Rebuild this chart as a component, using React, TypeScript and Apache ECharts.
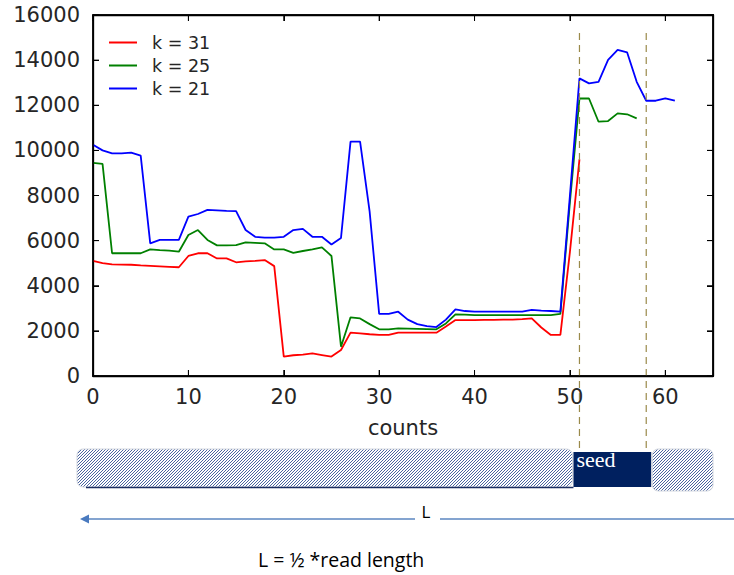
import React, { useEffect, useRef } from "react";
import * as echarts from "echarts";

const xTicks = [0, 10, 20, 30, 40, 50, 60];
const yTicks = [0, 2000, 4000, 6000, 8000, 10000, 12000, 14000, 16000];
const seriesNames = ["k = 31", "k = 25", "k = 21"];
const seriesColors = ["#ff0000", "#008000", "#0000ff"];

const k31 = [
  5100, 5000, 4950, 4940, 4930, 4900, 4880, 4860, 4840, 4820,
  5320, 5440, 5440, 5210, 5210, 5040, 5080, 5100, 5140, 4870,
  860, 920, 950, 1000, 930, 860, 1150, 1920, 1890, 1850,
  1820, 1820, 1920, 1920, 1920, 1920, 1920, 2190, 2480, 2480,
  2480, 2490, 2490, 2500, 2500, 2520, 2550, 2150, 1820, 1820,
  5500, 9600,
];
const k25 = [
  9450, 9400, 5440, 5440, 5440, 5440, 5610, 5580, 5560, 5510,
  6250, 6470, 6030, 5790, 5790, 5800, 5920, 5900, 5880, 5610,
  5610, 5460, 5540, 5610, 5700, 5320, 1300, 2600, 2550, 2300,
  2070, 2070, 2110, 2100, 2090, 2080, 2070, 2330, 2730, 2720,
  2700, 2700, 2700, 2700, 2700, 2700, 2700, 2700, 2700, 2750,
  7700, 12300, 12300, 11270, 11300, 11640, 11600, 11420,
];
const k21 = [
  10250, 10000, 9870, 9870, 9900, 9770, 5880, 6030, 6030, 6030,
  7060, 7180, 7360, 7340, 7320, 7310, 6470, 6170, 6130, 6130,
  6170, 6470, 6520, 6170, 6170, 5830, 6120, 10390, 10390, 7300,
  2750, 2750, 2850, 2500, 2300, 2210, 2170, 2500, 2950, 2880,
  2850, 2850, 2850, 2850, 2850, 2850, 2930, 2900, 2880, 2850,
  8000, 13190, 12970, 13040, 14010, 14450, 14340, 13040, 12200, 12200,
  12300, 12200,
];
const seedBounds = [51, 58];
const X_MAX = 65;
const Y_MAX = 16000;

function hatchTile(): string {
  const c = document.createElement("canvas");
  c.width = 3;
  c.height = 3;
  const ctx = c.getContext("2d");
  if (ctx) {
    ctx.fillStyle = "#ffffff";
    ctx.fillRect(0, 0, 3, 3);
    ctx.fillStyle = "#4a64a0";
    ctx.fillRect(2, 0, 1, 1);
    ctx.fillRect(1, 1, 1, 1);
    ctx.fillRect(0, 2, 1, 1);
  }
  return c.toDataURL();
}

const mkLine = () => ({ show: true, onZero: false, lineStyle: { color: "#000000", width: 1.3 } });
const mkTick = () => ({ show: true, inside: true, length: 6, lineStyle: { color: "#000000", width: 1 } });

export default function App() {
  const ref = useRef<HTMLDivElement>(null);
  useEffect(() => {
    if (!ref.current) return;
    const chart = echarts.init(ref.current, null, { renderer: "svg" });
    const font = "DejaVu Sans";
    const labelColor = "#262626";
    const data = [k31, k25, k21];

    const G = { left: 93, top: 15, width: 620, height: 361 };
    const px = (v: number) => G.left + (v / X_MAX) * G.width;
    const py = (v: number) => G.top + G.height - (v / Y_MAX) * G.height;

    const tile = hatchTile();
    const hatch = { image: tile, repeat: "repeat", imageWidth: 3, imageHeight: 3 };
    const xs = seedBounds.map(px);
    const yTop = py(15200);
    const barTop = 449;
    const barBottom = 487;
    const dashStyle = { stroke: "#9a8a4a", lineWidth: 1.2, lineDash: [7, 5] };
    const solid = { fill: "#000000" };

    const frame: any[] = [
      { type: "rect", shape: { x: G.left - 0.5, y: G.top - 0.75, width: G.width + 1.5, height: 1.5 }, style: solid, z: 20, silent: true },
      { type: "rect", shape: { x: G.left - 0.5, y: G.top + G.height - 0.75, width: G.width + 1.5, height: 1.5 }, style: solid, z: 20, silent: true },
      { type: "rect", shape: { x: G.left - 0.75, y: G.top - 0.5, width: 1.5, height: G.height + 1 }, style: solid, z: 20, silent: true },
      { type: "rect", shape: { x: G.left + G.width - 0.75, y: G.top - 0.5, width: 1.5, height: G.height + 1 }, style: solid, z: 20, silent: true },
    ];
    xTicks.forEach((v) => {
      const x = px(v);
      frame.push({ type: "rect", shape: { x: x - 0.5, y: G.top, width: 1, height: 6 }, style: solid, z: 20, silent: true });
      frame.push({ type: "rect", shape: { x: x - 0.5, y: G.top + G.height - 6, width: 1, height: 6 }, style: solid, z: 20, silent: true });
    });
    yTicks.forEach((v) => {
      const y = py(v);
      frame.push({ type: "rect", shape: { x: G.left, y: y - 0.5, width: 6, height: 1 }, style: solid, z: 20, silent: true });
      frame.push({ type: "rect", shape: { x: G.left + G.width - 6, y: y - 0.5, width: 6, height: 1 }, style: solid, z: 20, silent: true });
    });

    chart.setOption({
      animation: false,
      textStyle: { fontFamily: font },
      grid: {
        left: G.left, top: G.top, width: G.width, height: G.height, containLabel: false,
        show: true, borderColor: "#000000", borderWidth: 1.3, backgroundColor: "transparent",
      },
      legend: {
        orient: "vertical",
        left: 104,
        top: 28,
        icon: "rect",
        itemWidth: 28,
        itemHeight: 2,
        itemGap: 4,
        textStyle: { fontSize: 17.5, color: labelColor, fontFamily: font, lineHeight: 19, padding: [0, 0, 0, 10] },
        data: seriesNames,
      },
      xAxis: [
        {
          type: "value",
          min: 0,
          max: X_MAX,
          interval: 10,
          position: "bottom",
          axisLine: mkLine(),
          axisTick: mkTick(),
          splitLine: { show: false },
          axisLabel: {
            fontSize: 21,
            color: labelColor,
            margin: 10,
            showMaxLabel: false,
            formatter: (v: number) => (xTicks.includes(v) ? String(v) : ""),
          },
          name: "counts",
          nameLocation: "middle",
          nameGap: 41,
          nameTextStyle: { fontSize: 21, color: labelColor },
        },
        {
          type: "value",
          min: 0,
          max: X_MAX,
          interval: 10,
          position: "top",
          axisLine: mkLine(),
          axisTick: mkTick(),
          splitLine: { show: false },
          axisLabel: { show: false },
        },
      ],
      yAxis: [
        {
          type: "value",
          min: 0,
          max: Y_MAX,
          interval: 2000,
          position: "left",
          axisLine: mkLine(),
          axisTick: mkTick(),
          splitLine: { show: false },
          axisLabel: { fontSize: 21, color: labelColor, margin: 13, formatter: (v: number) => String(v) },
        },
        {
          type: "value",
          min: 0,
          max: Y_MAX,
          interval: 2000,
          position: "right",
          axisLine: mkLine(),
          axisTick: mkTick(),
          splitLine: { show: false },
          axisLabel: { show: false },
        },
      ],
      series: data.map((arr, si) => ({
        name: seriesNames[si],
        type: "line",
        xAxisIndex: 0,
        yAxisIndex: 0,
        symbol: "none",
        lineStyle: { width: 1.8, color: seriesColors[si] },
        itemStyle: { color: seriesColors[si] },
        data: arr.map((v, i) => [i, v]),
      })),
      graphic: [
        ...frame,
        { type: "line", shape: { x1: xs[0], y1: yTop, x2: xs[0], y2: barTop + 3 }, style: dashStyle, z: 10 },
        { type: "line", shape: { x1: xs[1], y1: yTop, x2: xs[1], y2: barTop + 3 }, style: dashStyle, z: 10 },
        {
          type: "rect",
          shape: { x: 77, y: barTop, width: xs[0] - 7 - 77, height: barBottom - barTop, r: 6 },
          style: { fill: hatch, stroke: "#d4d8e0", lineWidth: 1 },
        },
        {
          type: "line",
          shape: { x1: 86, y1: barBottom + 0.5, x2: xs[0] - 6, y2: barBottom + 0.5 },
          style: { stroke: "#1c2f63", lineWidth: 1.5 },
        },
        {
          type: "rect",
          shape: { x: xs[0] - 6, y: barTop + 3, width: xs[1] + 5 - (xs[0] - 6), height: barBottom - barTop - 3 },
          style: { fill: "#00205f" },
        },
        {
          type: "rect",
          shape: { x: xs[1] + 6, y: barTop, width: 713 - (xs[1] + 6), height: barBottom - barTop + 4, r: 6 },
          style: { fill: hatch, stroke: "#d4d8e0", lineWidth: 1 },
        },
        {
          type: "text",
          x: xs[0] - 3,
          y: 459,
          style: { text: "seed", fill: "#ffffff", font: "22px 'Liberation Serif'", verticalAlign: "middle", align: "left" },
        },
        {
          type: "line",
          shape: { x1: 86, y1: 519, x2: 415, y2: 519 },
          style: { stroke: "#5b86c0", lineWidth: 1.6 },
        },
        {
          type: "polygon",
          shape: { points: [[80, 519], [89, 514.5], [89, 523.5]] },
          style: { fill: "#4a7abf" },
        },
        {
          type: "line",
          shape: { x1: 440, y1: 519, x2: 734, y2: 519 },
          style: { stroke: "#5b86c0", lineWidth: 1.6 },
        },
        {
          type: "text",
          x: 426,
          y: 511,
          style: { text: "L", fill: "#000", font: "17px 'Open Sans'", align: "center", verticalAlign: "middle" },
        },
        {
          type: "text",
          x: 258,
          y: 559,
          style: { text: "L = \u00bd *read length", fill: "#000", font: "19.5px 'Open Sans'", align: "left", verticalAlign: "middle" },
        },
      ],
    });
    return () => chart.dispose();
  }, []);
  return <div ref={ref} style={{ position: "fixed", left: 0, top: 0, width: 734, height: 575, background: "#fff" }} />;
}
